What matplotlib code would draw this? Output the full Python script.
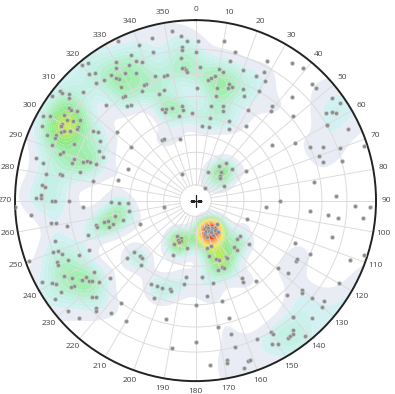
import numpy as np
import matplotlib
matplotlib.use("Agg")
import matplotlib.pyplot as plt
from matplotlib.colors import to_rgb

# Pole orientations: trend (deg, clockwise from north) and dip (deg from the centre)
trend_nw = [352, 355, 345, 357, 334, 340, 355, 355, 344, 336, 354, 339, 330, 337, 334, 355, 354, 356, 356, 329,
            331, 335, 326, 320, 322, 342, 346, 347, 328, 327, 323, 320, 322, 320, 337, 336, 327, 344, 341, 334,
            325, 326, 309, 309, 310, 314, 306, 309, 317, 324, 326, 340, 342, 346, 352, 352, 358, 341, 349, 306,
            306, 307, 303, 300, 299, 296, 305, 302, 300, 303, 302, 299, 299, 301, 294, 295, 297, 298, 299, 294,
            304, 305, 311, 302, 295, 291, 290, 289, 310, 331, 333, 346, 285, 289, 297, 295, 289, 290, 290, 290,
            287, 284, 280, 281, 281, 295, 284, 285, 281, 276, 275, 271, 333]
dip_nw = [87, 85, 86, 83, 89, 85, 81, 80, 81, 83, 77, 79, 83, 80, 80, 73, 73, 72, 71, 81,
          78, 76, 80, 85, 84, 72, 71, 71, 77, 78, 80, 81, 88, 89, 70, 70, 74, 65, 64, 68,
          70, 70, 88, 87, 85, 82, 89, 84, 72, 66, 65, 57, 56, 56, 56, 54, 52, 55, 51, 82,
          81, 79, 82, 86, 88, 87, 76, 80, 81, 78, 75, 81, 81, 75, 84, 81, 80, 79, 77, 81,
          69, 67, 60, 64, 73, 81, 76, 77, 50, 42, 42, 39, 85, 71, 62, 59, 67, 65, 64, 61,
          71, 82, 80, 75, 74, 45, 67, 48, 60, 81, 80, 81, 19]

trend_ne = [10, 1, 0, 15, 14, 27, 2, 10, 20, 28, 35, 39, 12, 6, 7, 9, 26, 30, 45, 47,
            1, 11, 16, 16, 18, 23, 30, 11, 25, 43, 53, 56, 9, 16, 17, 39, 40, 30, 56, 57,
            58, 10, 5, 10, 23, 34, 49, 60, 60, 65, 25, 54, 60, 65, 67, 70, 72, 70, 73, 34,
            39, 49, 24, 60, 63, 38, 81, 88, 75, 45, 42, 48]
dip_ne = [84, 83, 79, 81, 77, 82, 73, 73, 75, 78, 86, 87, 72, 68, 69, 70, 75, 75, 85, 85,
          64, 65, 68, 66, 67, 68, 70, 61, 65, 76, 87, 88, 56, 57, 55, 68, 66, 60, 82, 84,
          85, 50, 45, 45, 51, 53, 71, 80, 80, 86, 47, 55, 65, 70, 75, 81, 89, 72, 73, 26,
          30, 30, 20, 36, 20, 10, 67, 76, 80, 22, 24, 21]

trend_sw = [271, 272, 270, 270, 270, 268, 265, 267, 269, 268, 268, 261, 259, 255, 259, 261, 261, 259, 256, 255,
            257, 257, 253, 254, 247, 252, 254, 207, 201, 206, 200, 190, 203, 250, 248, 250, 245, 245, 230, 225,
            223, 230, 220, 250, 246, 245, 245, 235, 240, 238, 235, 235, 233, 232, 230, 228, 242, 240, 239, 235,
            235, 236, 187, 188, 208, 204, 201, 196, 195, 227, 226, 235, 203, 216, 223, 222, 217, 229, 225, 210,
            194, 180, 189, 204, 202]
dip_sw = [83, 81, 77, 76, 70, 90, 85, 64, 50, 46, 41, 41, 49, 45, 20, 78, 76, 72, 59, 59,
          55, 53, 53, 51, 37, 64, 78, 25, 25, 30, 27, 30, 36, 78, 77, 80, 71, 66, 48, 47,
          47, 53, 50, 89, 80, 80, 76, 69, 80, 78, 75, 73, 73, 72, 70, 65, 88, 85, 84, 79,
          80, 84, 46, 50, 55, 55, 55, 54, 55, 76, 75, 87, 61, 70, 78, 79, 76, 86, 85, 75,
          68, 60, 79, 27, 28]

trend_se = [90, 95, 95, 96, 97, 92, 92, 96, 110, 138,
            158, 149, 147, 156, 153, 145, 162, 164, 156, 152, 160, 155, 156, 154,
            129, 133, 166, 161, 140, 140, 129, 113, 105, 111, 108, 166, 161, 158, 152, 151, 158, 157,
            162, 175, 149, 150, 143, 129, 128, 121, 120, 115, 120, 168, 173, 165, 136, 130, 131, 130,
            128, 130, 164, 140, 140, 135, 143, 146, 145, 144, 141, 170, 165, 156, 150, 150, 152, 150,
            165, 162, 161, 164, 169, 169, 175, 180]
dip_se = [50, 43, 65, 73, 77, 83, 88, 86, 34, 20,
          18, 20, 22, 22, 24, 24, 24, 21, 21, 21, 20, 19, 21, 22,
          35, 35, 30, 30, 37, 39, 42, 62, 76, 85, 89, 35, 38, 39, 39, 40, 43, 44,
          44, 46, 53, 55, 58, 61, 66, 66, 66, 70, 85, 50, 56, 60, 72, 75, 76, 80,
          84, 85, 68, 80, 80, 85, 84, 85, 85, 85, 88, 71, 75, 80, 80, 81, 84, 85,
          80, 86, 86, 88, 84, 85, 85, 76]

azimuth_labels = list(range(0, 360, 10))
grid_dips = list(range(10, 90, 10))

# density colour ramp: anchor values (fraction of peak density) and colours
ramp_values = [0.11, 0.16, 0.22, 0.29, 0.36, 0.44, 0.52, 0.65, 0.79]
ramp_colors = ['#e9ecf4', '#d3f0f2', '#bff0e0', '#a4eeb4', '#8fe88a',
               '#c4ec4e', '#f6e632', '#f7a224', '#ee4a18']

trend = np.array(trend_nw + trend_ne + trend_sw + trend_se, dtype=float)
dip = np.array(dip_nw + dip_ne + dip_sw + dip_se, dtype=float)


def stereo_r(d):
    """Equal-angle radius (rim = 1) for a dip in degrees."""
    return np.tan(np.radians(d) / 2.0)


# Axial point density per unit solid angle. Each pole and its antipode
# (trend + 180, radius 1/r in the equal-angle plane) carry a Gaussian that
# widens with the scale factor (1 + r^2) and keeps unit area on the sphere.
sigma0 = 0.05
th = np.linspace(0, 2 * np.pi, 361)
rr = np.linspace(0, 1, 161)
TH, RR = np.meshgrid(th, rr)
gx, gy = RR * np.sin(TH), RR * np.cos(TH)

pr = stereo_r(dip)
ptr = np.radians(trend)
all_r = np.concatenate([pr, 1.0 / pr])
all_t = np.concatenate([ptr, ptr + np.pi])
px, py = all_r * np.sin(all_t), all_r * np.cos(all_t)
scale = 1.0 + all_r ** 2
sig = sigma0 * scale
d2 = (gx[..., None] - px) ** 2 + (gy[..., None] - py) ** 2
dens = (np.exp(-d2 / (2 * sig ** 2)) / scale ** 2).sum(axis=-1)
dens = dens / dens.max()

# a flat lowest band, then a smooth ramp
levels = np.concatenate([[ramp_values[0]], np.linspace(ramp_values[1], ramp_values[-1], 30), [1.01]])
rgb = np.array([to_rgb(c) for c in ramp_colors])
mids = np.concatenate([[ramp_values[0]], levels[1:-1]])
band_colors = [tuple(np.interp(v, ramp_values, rgb[:, k]) for k in range(3)) for v in mids]

fig = plt.figure(figsize=(3.95, 3.94), dpi=100)
ax = fig.add_axes([0.038, 0.0327, 0.914, 0.9162], projection='polar')
ax.set_theta_zero_location('N')
ax.set_theta_direction(-1)
ax.set_ylim(0, 1)

ax.contourf(TH, RR, dens, levels=levels, colors=band_colors, antialiased=True, zorder=1)

# equal-angle net: dip circles and azimuth spokes
for d in grid_dips:
    ax.plot(th, np.full_like(th, stereo_r(d)), color='#dcdcdc', lw=0.7, zorder=2)
for a in azimuth_labels:
    ax.plot([np.radians(a)] * 2, [stereo_r(10), 1.0], color='#dcdcdc', lw=0.7, zorder=2)

ax.plot(ptr, pr, 'o', ms=2.8, color='#8c8c8c', mec='#c8c8c8', mew=0.4, zorder=3)
ax.plot(0, 0, '+', ms=9, mew=0.9, color='#222222', zorder=4)

ax.set_xticks(np.radians(azimuth_labels))
ax.set_xticklabels([str(a) for a in azimuth_labels], fontsize=6, color='#444444',
                   family='Open Sans')
ax.set_yticks([])
ax.grid(False)
ax.tick_params(axis='x', direction='out', length=3.6, width=1, pad=-3, color='#222222')
ax.spines['polar'].set_linewidth(1.4)
ax.spines['polar'].set_color('#222222')

fig.savefig('out.png', dpi=100)
